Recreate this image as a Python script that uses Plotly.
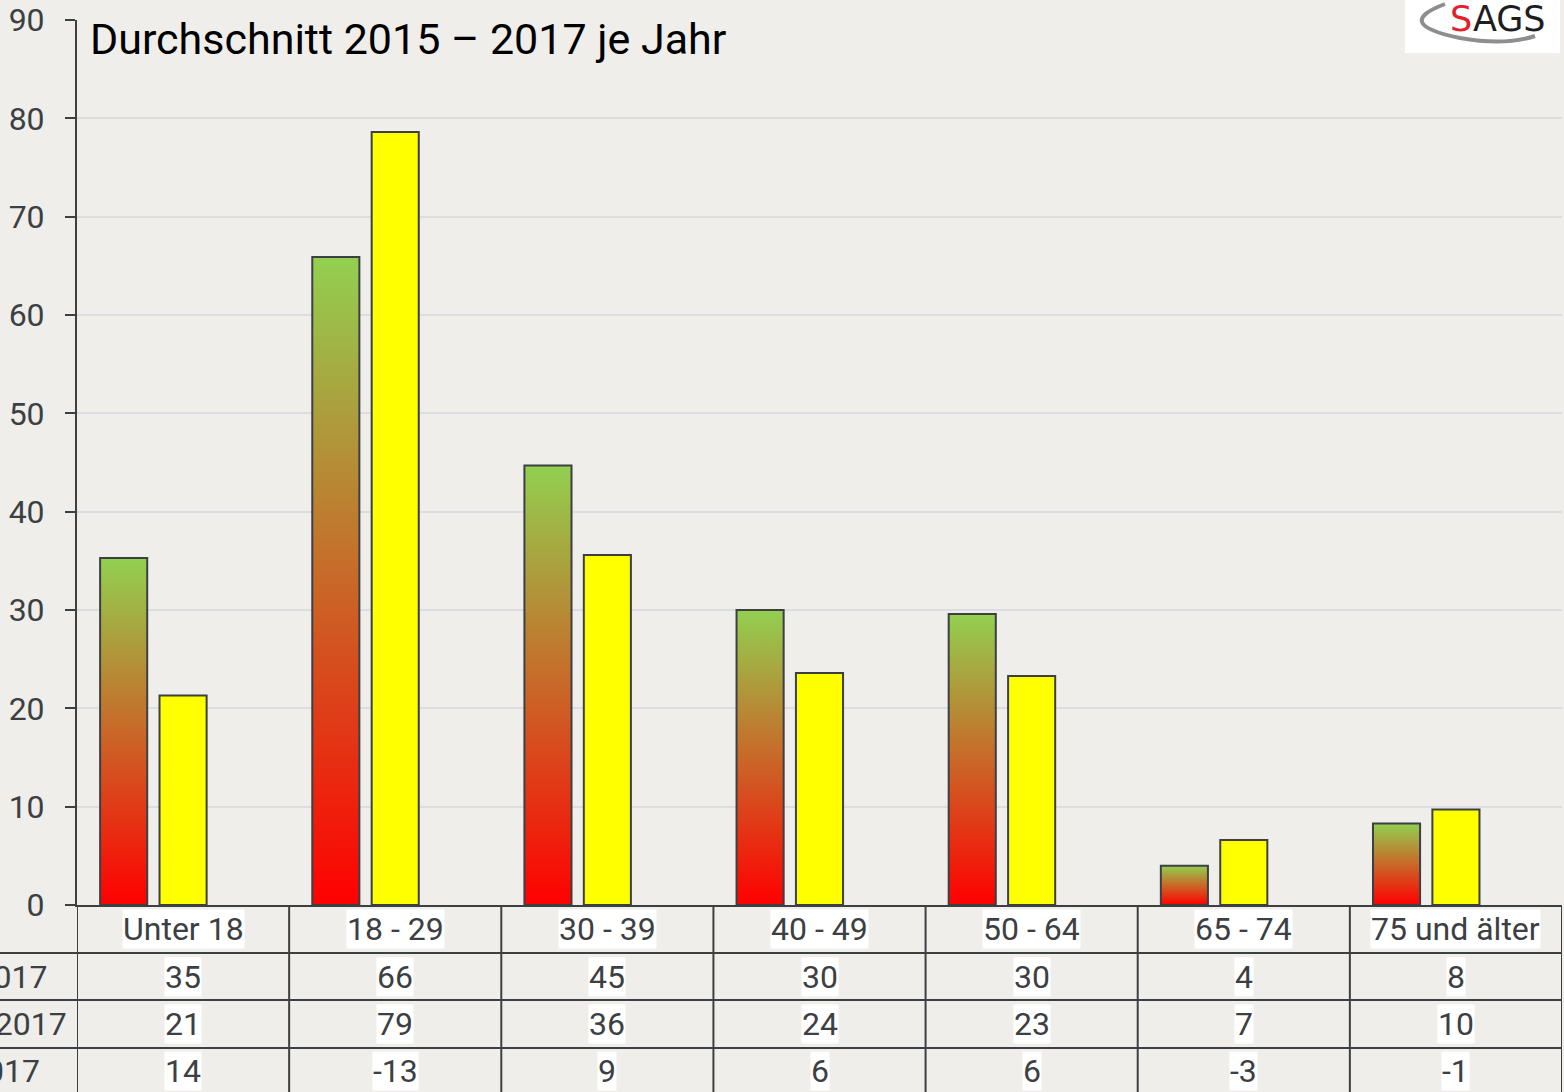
import plotly.graph_objects as go

# ---- data ----
categories = ["Unter 18", "18 - 29", "30 - 39", "40 - 49", "50 - 64", "65 - 74", "75 und älter"]
series_a = [35.3, 65.9, 44.7, 30.0, 29.6, 4.0, 8.3]
series_b = [21.3, 78.6, 35.6, 23.6, 23.3, 6.6, 9.7]
saldo = [14, -13, 9, 6, 6, -3, -1]
row_labels = ["Zuzüge 2015 - 2017", "Fortzüge 2015 - 2017", "Saldo 2015 - 2017"]
y_ticks = [0, 10, 20, 30, 40, 50, 60, 70, 80, 90]

# ---- style / geometry ----
W, H = 1564, 1092
ML, MR, MT, MB = 77, 2, 20, 187
PW, PH = W - ML - MR, H - MT - MB
BG = "#EFEEEA"
DARK = "#3C4043"
FONT = "Roboto"
BAR_W = 0.222
A_OFF = -0.28

def py(p):  # pixel y -> paper y
    return (H - MB - p) / PH

def px(p):  # pixel x -> paper x
    return (p - ML) / PW

fig = go.Figure()

idx = list(range(len(categories)))

# gradient bars (series A)
for i, v in zip(idx, series_a):
    x0, x1 = i + A_OFF - BAR_W / 2, i + A_OFF + BAR_W / 2
    fig.add_trace(go.Scatter(
        x=[x0, x1, x1, x0, x0], y=[0, 0, v, v, 0],
        mode="lines", fill="toself",
        fillgradient=dict(type="vertical", colorscale=[[0, "#FF0000"], [1, "#92D050"]]),
        line=dict(color=DARK, width=2),
        hoverinfo="skip", showlegend=False,
    ))

# yellow bars (series B)
fig.add_trace(go.Bar(
    x=idx, y=series_b, width=BAR_W,
    marker=dict(color="#FFFF00", line=dict(color=DARK, width=2)),
    showlegend=False, hoverinfo="skip",
))

fig.update_layout(
    width=W, height=H,
    margin=dict(l=ML, r=MR, t=MT, b=MB),
    paper_bgcolor=BG, plot_bgcolor=BG,
    font=dict(family=FONT, color=DARK),
    barmode="overlay",
    xaxis=dict(range=[-0.5, len(categories) - 0.5], showticklabels=False, showgrid=False,
               zeroline=False, showline=True, linecolor=DARK, linewidth=2, ticks=""),
    yaxis=dict(range=[0, 90], tickvals=y_ticks, showgrid=True, gridcolor="#DCDDE2", gridwidth=1.5,
               zeroline=False, showline=True, linecolor=DARK, linewidth=2,
               ticks="outside", ticklen=10, tickwidth=2, tickcolor=DARK,
               tickfont=dict(size=32, color=DARK, family=FONT), ticklabelstandoff=14),
)

shapes = []
# horizontal table lines
for p in [953, 1000, 1048]:
    shapes.append(dict(type="line", xref="paper", yref="paper", x0=px(0), x1=1, y0=py(p), y1=py(p),
                       line=dict(color=DARK, width=2), layer="above"))
# vertical table lines
for i in range(len(categories) + 1):
    shapes.append(dict(type="line", xref="x", yref="paper", x0=i - 0.5, x1=i - 0.5, y0=0, y1=py(H),
                       line=dict(color=DARK, width=2), layer="above"))
# logo box
shapes.append(dict(type="rect", xref="paper", yref="paper", x0=px(1405), x1=px(1560), y0=py(0), y1=py(53),
                   fillcolor="white", line=dict(width=0), layer="below"))
swoosh = "M {:.5f},{:.5f} Q {:.5f},{:.5f} {:.5f},{:.5f} Q {:.5f},{:.5f} {:.5f},{:.5f}".format(
    px(1445), py(4), px(1392), py(24), px(1460), py(38), px(1505), py(46), px(1535), py(36))
shapes.append(dict(type="path", xref="paper", yref="paper", path=swoosh,
                   line=dict(color="#8E8E8E", width=4), layer="below"))
fig.update_layout(shapes=shapes)

ann = []
# title
ann.append(dict(text="Durchschnitt 2015 – 2017 je Jahr", xref="paper", yref="paper", x=px(88), y=py(39),
                xanchor="left", yanchor="middle", showarrow=False,
                font=dict(size=43, color="black", family=FONT)))
# logo text
ann.append(dict(text="<span style='color:#E3202B'>S</span>AGS", xref="paper", yref="paper",
                x=px(1498), y=py(19), xanchor="center", yanchor="middle", showarrow=False,
                font=dict(size=35, color="#1E1E1E", family="DejaVu Sans")))

# table cells
rows = [
    (categories, 929),
    ([str(round(v)) for v in series_a], 977),
    ([str(round(v)) for v in series_b], 1024),
    ([str(v) for v in saldo], 1071),
]
for texts, p in rows:
    for i, t in zip(idx, texts):
        ann.append(dict(text=t, xref="x", yref="paper", x=i, y=py(p), xanchor="center", yanchor="middle",
                        showarrow=False, bgcolor="white", borderpad=0,
                        font=dict(size=32, color=DARK, family=FONT)))

# row labels (partially cut off at left edge, as in the original)
for lab, p, right in zip(row_labels, [977, 1024, 1071], [50, 69, 42]):
    ann.append(dict(text=lab, xref="paper", yref="paper", x=px(right), y=py(p), xanchor="right",
                    yanchor="middle", showarrow=False, font=dict(size=32, color=DARK, family=FONT)))

fig.update_layout(annotations=ann)

fig.write_html("out.html", config={"displayModeBar": False},
               post_script="document.body.style.margin='0';")
